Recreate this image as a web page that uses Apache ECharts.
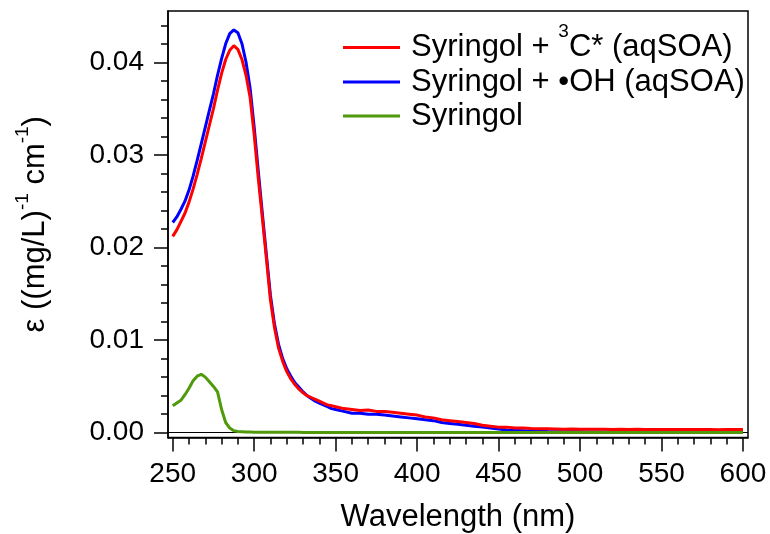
<!DOCTYPE html>
<html>
<head>
<meta charset="utf-8">
<script src="https://cdn.jsdelivr.net/npm/echarts@6/dist/echarts.min.js"></script>
<style>
html, body { margin: 0; padding: 0; background: #fff; }
#chart { width: 770px; height: 534px; }
</style>
</head>
<body>
<div id="chart"></div>
<script>
// wavelength grid (nm), finer through the absorption band
var wavelength = [
    250, 252.5, 255, 257.5, 260, 262.5, 265, 267.5, 270, 272.5,
    275, 277.5, 280, 282.5, 285, 287.5, 290, 292.5, 295, 297.5,
    300, 302.5, 305, 307.5, 310, 312.5, 315, 317.5, 320, 322.5,
    325, 327.5, 330, 332.5, 335, 337.5, 340, 342.5, 345, 347.5, 350,
    355, 360, 365, 370, 375, 380, 385, 390, 395, 400,
    405, 410, 415, 420, 425, 430, 435, 440, 445, 450,
    455, 460, 465, 470, 475, 480, 485, 490, 495, 500,
    505, 510, 515, 520, 525, 530, 535, 540, 545, 550,
    555, 560, 565, 570, 575, 580, 585, 590, 595, 600
];

// Syringol + 3C* (aqSOA)
var aqsoa3C = [
    0.0212, 0.0219, 0.0228, 0.0237, 0.0249, 0.0263, 0.0279, 0.0296, 0.0314, 0.0332,
    0.0350, 0.0370, 0.0388, 0.0403, 0.0413, 0.0418, 0.0414, 0.0403, 0.0386, 0.0362,
    0.0322, 0.0275, 0.0232, 0.0188, 0.0143, 0.0113, 0.0091, 0.0077, 0.0066, 0.0058,
    0.0052, 0.0047, 0.0043, 0.0040, 0.0038, 0.0036, 0.0034, 0.0032, 0.0030, 0.0029, 0.0028,
    0.0026, 0.0025, 0.0024, 0.00245, 0.0023, 0.0023, 0.0022, 0.0021, 0.0020, 0.0019,
    0.0017, 0.0016, 0.0014, 0.0013, 0.0012, 0.0011, 0.0010, 0.0008, 0.0007, 0.0006,
    0.0006, 0.0005, 0.0005, 0.00045, 0.00042, 0.00042, 0.0004, 0.00038, 0.0004, 0.00037,
    0.00038, 0.00036, 0.00037, 0.00035, 0.00036, 0.00035, 0.00036, 0.00035, 0.00034, 0.00035,
    0.00034, 0.00035, 0.00035, 0.00034, 0.00034, 0.00035, 0.00033, 0.00034, 0.00034, 0.00035
];

// Syringol + •OH (aqSOA)
var aqsoaOH = [
    0.0227, 0.0233, 0.0241, 0.0250, 0.0262, 0.0277, 0.0294, 0.0312, 0.0330, 0.0348,
    0.0366, 0.0386, 0.0404, 0.0420, 0.0431, 0.0435, 0.0432, 0.0420, 0.0400, 0.0372,
    0.0330, 0.0283, 0.0237, 0.0192, 0.0148, 0.0117, 0.0095, 0.0080, 0.0069, 0.0061,
    0.0054, 0.0049, 0.0044, 0.0040, 0.0037, 0.0034, 0.0032, 0.0030, 0.0028, 0.0026, 0.0025,
    0.0023, 0.0021, 0.0021, 0.0020, 0.0020, 0.0019, 0.0018, 0.0017, 0.0016, 0.0015,
    0.0014, 0.0013, 0.0011, 0.0010, 0.0009, 0.0008, 0.0007, 0.0006, 0.0005, 0.0004,
    0.0003, 0.00026, 0.00022, 0.00018, 0.00015, 0.00012, 0.00011, 0.0001, 0.00009, 0.00009,
    0.00008, 0.00007, 0.00008, 0.00007, 0.00006, 0.00007, 0.00008, 0.00006, 0.00007, 0.00006,
    0.00007, 0.00006, 0.00007, 0.00006, 0.00006, 0.00007, 0.00006, 0.00006, 0.00005, 0.00006
];

// Syringol
var syringol = [
    0.0029, 0.0032, 0.0035, 0.0041, 0.0048, 0.0056, 0.0061, 0.0063, 0.0060, 0.0055,
    0.0050, 0.0044, 0.0025, 0.0011, 0.0005, 0.0002, 0.00012, 0.0001, 0.00008, 0.00007,
    0.00006, 0.00006, 0.00005, 0.00005, 0.00005, 0.00005, 0.00004, 0.00004, 0.00004, 0.00004,
    0.00004, 0.00004, 0.00003, 0.00003, 0.00003, 0.00003, 0.00003, 0.00003, 0.00003, 0.00003, 0.00003,
    0.00003, 0.00003, 0.00002, 0.00002, 0.00002, 0.00002, 0.00002, 0.00002, 0.00002, 0.00002,
    0.00002, 0.00002, 0.00002, 0.00002, 0.00002, 0.00002, 0.00002, 0.00002, 0.00002, 0.00002,
    0.00002, 0.00002, 0.00002, 0.00002, 0.00002, 0.00002, 0.00002, 0.00002, 0.00002, 0.00002,
    0.00002, 0.00002, 0.00002, 0.00002, 0.00002, 0.00002, 0.00002, 0.00002, 0.00002, 0.00002,
    0.00002, 0.00002, 0.00002, 0.00002, 0.00002, 0.00002, 0.00002, 0.00002, 0.00002, 0.00002
];

var seriesNames = ['Syringol + 3C* (aqSOA)', 'Syringol + •OH (aqSOA)', 'Syringol'];
var seriesColors = ['#ff0000', '#0000ff', '#4f9a0b'];
var xTicks = [250, 300, 350, 400, 450, 500, 550, 600];
var yTicks = [0, 0.01, 0.02, 0.03, 0.04];

var FONT = 'Liberation Sans, Arial, sans-serif';

function pairs(ys) {
    return wavelength.map(function (x, i) { return [x, ys[i]]; });
}

function RenderSpectra() {
    var chart = echarts.init(document.getElementById('chart'));

    var xMin = 247.1, xMax = 603.1;
    var yMin = -0.00052, yMax = 0.04554;

    // minor ticks every 10 nm and every 0.002
    var xMinor = [];
    for (var w = 260; w < 600; w += 10) { if (w % 50 !== 0) xMinor.push(w); }
    var yMinor = [];
    for (var k = 1; k <= 22; k++) { if (k % 5 !== 0) yMinor.push(k / 500); }

    var tickStyle = { color: '#000', width: 1.5 };
    var sup = { fontSize: 19, fontFamily: FONT, color: '#000', padding: [0, 0, 32, 0] };
    var txt = { fontSize: 31, fontFamily: FONT, color: '#000' };
    var first = { fontSize: 31, fontFamily: FONT, color: '#000', padding: [0, 0, 0, 6] };

    var legendTops = [22, 66.5, 100.5];
    var legendText = [
        '{f|Syringol + }{s|3}{t|C* (aqSOA)}',
        '{f|Syringol + •OH (aqSOA)}',
        '{f|Syringol}'
    ];

    var option = {
        animation: false,
        backgroundColor: '#fff',
        grid: {
            left: 168, right: 22, top: 11, bottom: 96.5,
            containLabel: false, outerBoundsMode: 'none',
            show: true, borderColor: '#000', borderWidth: 1.5
        },
        legend: seriesNames.map(function (n, i) {
            return {
                data: [n],
                left: 343,
                top: legendTops[i],
                padding: 0,
                icon: 'rect',
                itemWidth: 57,
                itemHeight: 3,
                selectedMode: false,
                formatter: function () { return legendText[i]; },
                textStyle: { fontSize: 31, fontFamily: FONT, color: '#000',
                    rich: { f: first, t: txt, s: sup } }
            };
        }),
        xAxis: [{
            type: 'value', min: xMin, max: xMax, position: 'bottom',
            axisLine: { show: true, onZero: false, lineStyle: tickStyle },
            axisTick: { show: true, length: 14, lineStyle: tickStyle, customValues: xTicks },
            axisLabel: { customValues: xTicks, margin: 23, fontSize: 28, fontFamily: FONT, color: '#000' },
            splitLine: { show: false },
            name: 'Wavelength (nm)', nameLocation: 'middle', nameGap: 64,
            nameTextStyle: { fontSize: 31, fontFamily: FONT, color: '#000' }
        }, {
            type: 'value', min: xMin, max: xMax, position: 'bottom',
            axisLine: { show: false, onZero: false },
            axisTick: { show: true, length: 7, lineStyle: tickStyle, customValues: xMinor },
            axisLabel: { show: false },
            splitLine: { show: false }
        }],
        yAxis: [{
            type: 'value', min: yMin, max: yMax, position: 'left',
            axisLine: { show: true, onZero: false, lineStyle: tickStyle },
            axisTick: { show: true, length: 14, lineStyle: tickStyle, customValues: yTicks },
            axisLabel: {
                customValues: yTicks, margin: 24, fontSize: 28, fontFamily: FONT, color: '#000',
                formatter: function (v) { return v.toFixed(2); }
            },
            splitLine: { show: false },
            name: '{t|ε ((mg/L)}{s|-1}{t| cm}{s|-1}{t|)}',
            nameLocation: 'middle', nameRotate: 90, nameGap: 110,
            nameTextStyle: { fontSize: 31, fontFamily: FONT, color: '#000',
                rich: { t: txt, s: { fontSize: 19, fontFamily: FONT, color: '#000', padding: [0, 0, 26, 0] } } }
        }, {
            type: 'value', min: yMin, max: yMax, position: 'left',
            axisLine: { show: false, onZero: false },
            axisTick: { show: true, length: 7, lineStyle: tickStyle, customValues: yMinor },
            axisLabel: { show: false },
            splitLine: { show: false }
        }],
        series: [
            { name: seriesNames[0], data: pairs(aqsoa3C), z: 3, lineStyle: { width: 3 } },
            {
                name: seriesNames[1], data: pairs(aqsoaOH), z: 2, lineStyle: { width: 3 },
                // zero reference line, kept under the curves
                markLine: {
                    z: 1, silent: true, symbol: 'none', label: { show: false },
                    lineStyle: { color: '#000', width: 1, type: 'solid' },
                    data: [{ yAxis: 0 }]
                }
            },
            { name: seriesNames[2], data: pairs(syringol), z: 4, lineStyle: { width: 3 } }
        ].map(function (s, i) {
            s.type = 'line';
            s.xAxisIndex = 0;
            s.yAxisIndex = 0;
            s.showSymbol = false;
            s.symbol = 'none';
            s.color = seriesColors[i];
            s.lineStyle.color = seriesColors[i];
            return s;
        })
    };

    chart.setOption(option);
}

RenderSpectra();
</script>
</body>
</html>
